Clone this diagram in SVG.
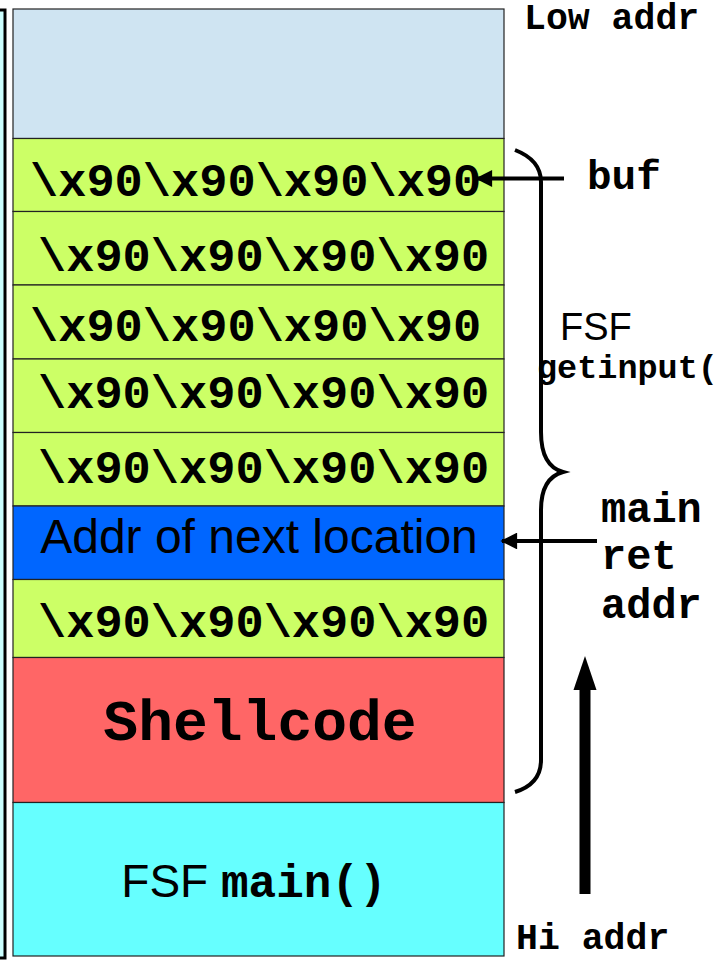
<svg xmlns="http://www.w3.org/2000/svg" width="722" height="962" viewBox="0 0 722 962">
  <defs>
    <style>
      .cell { stroke: #222; stroke-width: 1.2; }
      .nop { font-family: "Liberation Mono", "Courier New", monospace; font-weight: bold; font-size: 47px; fill: #000; }
      .sans { font-family: "Liberation Sans", Arial, sans-serif; fill: #000; }
      .mono { font-family: "Liberation Mono", "Courier New", monospace; font-weight: bold; fill: #000; }
      .line { stroke: #000; stroke-width: 4; fill: none; }
    </style>
    <marker id="head" viewBox="0 0 10 10" refX="9" refY="5" markerWidth="5" markerHeight="4.2" markerUnits="strokeWidth" orient="auto">
      <path d="M0,0 L10,5 L0,10 Z" fill="#000"/>
    </marker>
  </defs>

  <rect width="722" height="962" fill="#ffffff"/>

  <!-- edge of the neighbouring frame on the far left -->
  <rect id="frame-edge" x="-60" y="10" width="65" height="948" fill="#ccffff" stroke="#000" stroke-width="3"/>

  <!-- stack cells, low addresses at the top -->
  <g id="cell-free">
    <rect class="cell" x="13" y="9" width="491" height="129.5" fill="#cfe4f2"/>
  </g>
  <g id="cell-buf-0">
    <rect class="cell" x="13" y="138.5" width="491" height="73" fill="#ccff66"/>
    <text class="nop" x="30" y="196">\x90\x90\x90\x90</text>
  </g>
  <g id="cell-buf-1">
    <rect class="cell" x="13" y="211.5" width="491" height="73.5" fill="#ccff66"/>
    <text class="nop" x="38" y="271">\x90\x90\x90\x90</text>
  </g>
  <g id="cell-buf-2">
    <rect class="cell" x="13" y="285" width="491" height="74" fill="#ccff66"/>
    <text class="nop" x="30" y="341">\x90\x90\x90\x90</text>
  </g>
  <g id="cell-buf-3">
    <rect class="cell" x="13" y="359" width="491" height="73.5" fill="#ccff66"/>
    <text class="nop" x="38" y="408">\x90\x90\x90\x90</text>
  </g>
  <g id="cell-buf-4">
    <rect class="cell" x="13" y="432.5" width="491" height="73.5" fill="#ccff66"/>
    <text class="nop" x="38" y="483">\x90\x90\x90\x90</text>
  </g>
  <g id="cell-ret">
    <rect class="cell" x="13" y="506" width="491" height="73.5" fill="#0066ff"/>
    <text class="sans" x="259" y="553" font-size="48" text-anchor="middle">Addr of next location</text>
  </g>
  <g id="cell-pad">
    <rect class="cell" x="13" y="579.5" width="491" height="78" fill="#ccff66"/>
    <text class="nop" x="38" y="637">\x90\x90\x90\x90</text>
  </g>
  <g id="cell-shellcode">
    <rect class="cell" x="13" y="657.5" width="491" height="145" fill="#ff6666"/>
    <text class="mono" x="260" y="740" font-size="58" text-anchor="middle">Shellcode</text>
  </g>
  <g id="cell-main">
    <rect class="cell" x="13" y="802.5" width="491" height="153.5" fill="#66ffff"/>
    <text x="254" y="897" text-anchor="middle"><tspan class="sans" font-size="46">FSF </tspan><tspan class="mono" font-size="46">main()</tspan></text>
  </g>

  <!-- pointers, frame brace and growth direction -->
  <g id="connectors">
    <path class="line" d="M515,150 Q541,160 541,182 L541,432 Q541,466 563,472 Q541,478 541,510 L541,760 Q541,784 515,792"/>
    <line class="line" x1="564" y1="178.5" x2="477" y2="178.5" marker-end="url(#head)"/>
    <line class="line" x1="597" y1="541" x2="502" y2="541" marker-end="url(#head)"/>
    <line x1="585" y1="894" x2="585" y2="684" stroke="#000" stroke-width="11"/>
    <path d="M585,656 L596.5,690 L573.5,690 Z" fill="#000"/>
  </g>

  <!-- address and frame labels -->
  <g id="labels">
    <text class="mono" x="524" y="29" font-size="36.5">Low addr</text>
    <text class="mono" x="587" y="189" font-size="41">buf</text>
    <text class="sans" x="560" y="340" font-size="38">FSF</text>
    <text class="mono" x="537" y="378" font-size="33.5">getinput(</text>
    <text class="mono" x="601" y="522" font-size="42">main</text>
    <text class="mono" x="601" y="569" font-size="42">ret</text>
    <text class="mono" x="601" y="618" font-size="42">addr</text>
    <text class="mono" x="516" y="949" font-size="36.5">Hi addr</text>
  </g>
</svg>
